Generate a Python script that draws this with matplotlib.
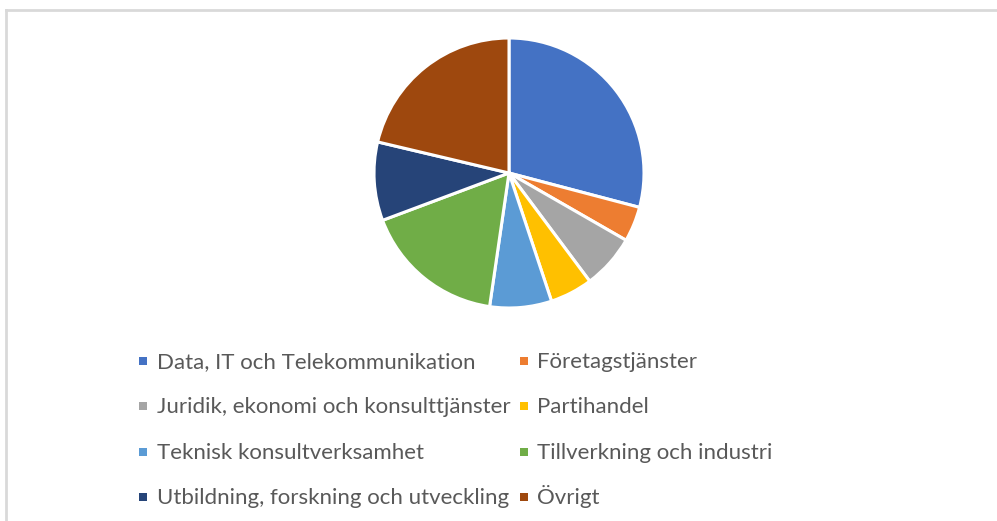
import matplotlib as mpl
mpl.use('Agg')
import matplotlib.pyplot as plt
from matplotlib.lines import Line2D
from matplotlib.patches import Rectangle

categories = [
    "Data, IT och Telekommunikation",
    "Företagstjänster",
    "Juridik, ekonomi och konsulttjänster",
    "Partihandel",
    "Teknisk konsultverksamhet",
    "Tillverkning och industri",
    "Utbildning, forskning och utveckling",
    "Övrigt",
]
shares = [29.1, 4.2, 6.5, 5.1, 7.4, 17.0, 9.4, 21.3]
colors = ["#4472C4", "#ED7D31", "#A5A5A5", "#FFC000",
          "#5B9BD5", "#70AD47", "#264478", "#9E480E"]

W, H = 997, 521
fig = plt.figure(figsize=(W / 100, H / 100), dpi=100)

# pie centre ~(509, 173) px, radius ~133 px (+ a bit for the white edge)
cx, cy, r = 509, 173, 135
ax = fig.add_axes([(cx - r) / W, (H - cy - r) / H, 2 * r / W, 2 * r / H])
ax.pie(shares, colors=colors, startangle=90, counterclock=False, radius=1,
       wedgeprops=dict(edgecolor="white", linewidth=2.2))
ax.set_xlim(-1, 1)
ax.set_ylim(-1, 1)
ax.set_aspect("equal")
ax.axis("off")

# outer frame (only top and left edges are visible in the crop)
fig.add_artist(Line2D([6 / W, 1], [1 - 10 / H, 1 - 10 / H], color="#D9D9D9", lw=2,
                      transform=fig.transFigure))
fig.add_artist(Line2D([6 / W, 6 / W], [0, 1 - 10 / H], color="#D9D9D9", lw=2,
                      transform=fig.transFigure))

# legend, two columns filled row by row, text on a common baseline
marker_x = [139, 520]
text_x = [157, 537]
row_step = 45.3
for i, (lab, col) in enumerate(zip(categories, colors)):
    row, c = divmod(i, 2)
    top = 357 + row * row_step
    fig.add_artist(Rectangle((marker_x[c] / W, 1 - (top + 8) / H), 8 / W, 8 / H,
                             facecolor=col, edgecolor="none", transform=fig.transFigure))
    fig.text(text_x[c] / W, 1 - (368 + row * row_step) / H, lab,
             family="Lato", fontsize=16, color="#595959", va="baseline", ha="left")

fig.savefig("out.png", dpi=100)
plt.close()
